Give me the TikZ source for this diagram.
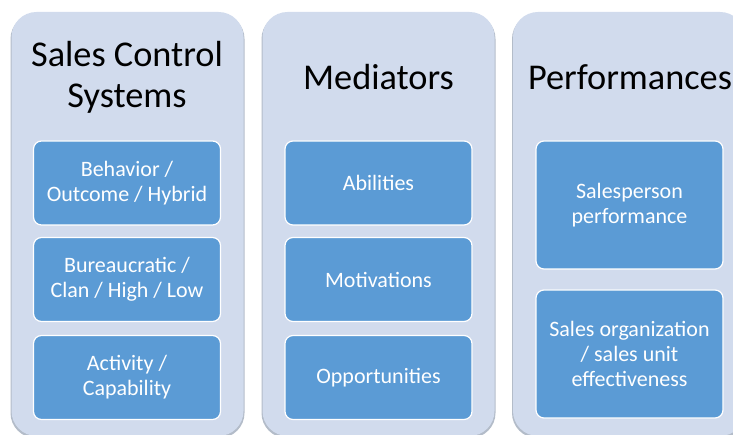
\documentclass[tikz,border=0pt]{standalone}
\usepackage{fontspec}
\setmainfont{Carlito}
\usepackage{tikz}
\usetikzlibrary{positioning}

\definecolor{panelblue}{HTML}{D1DBED}
\definecolor{paneledge}{HTML}{B3BCC9}
\definecolor{boxblue}{HTML}{5B9BD5}

\begin{document}
\begin{tikzpicture}[x=1pt, y=-1pt,
    every node/.style = {align=center, inner sep=0pt},
    panel/.style = {fill=panelblue, rounded corners=25pt, minimum width=232pt, minimum height=424pt},
    shade/.style = {fill=paneledge, rounded corners=25pt, minimum width=234pt, minimum height=424pt},
    heading/.style = {font=\fontsize{36.3}{41}\selectfont, text=black},
    item/.style = {fill=boxblue, draw=white, line width=1.2pt, rounded corners=8pt,
                   minimum width=187pt, minimum height=84pt, text=white,
                   font=\fontsize{22}{25}\selectfont},
    tallitem/.style = {item, minimum height=128pt}]
  \useasboundingbox (0,0) rectangle (733,435);
  % three columns
  \node[shade] (s1) at (127.5,226) {};
  \node[shade] (s2) at (378.5,226) {};
  \node[shade] (s3) at (629,226) {};
  \node[panel] (p1) at (127.5,224) {};
  \node[panel] (p2) at (378.5,224) {};
  \node[panel] (p3) at (629,224) {};
  \node[heading] (t1) at (127,77) {Sales Control\\Systems};
  \node[heading] (t2) at (378.5,77) {Mediators};
  \node[heading] (t3) at (630,77) {Performances};
  % control systems
  \node[item] (c1) at (127,183) {Behavior /\\Outcome / Hybrid};
  \node[item] (c2) at (127,279.5) {Bureaucratic /\\Clan / High / Low};
  \node[item] (c3) at (127,377.5) {Activity /\\Capability};
  % mediators
  \node[item] (m1) at (378.5,183) {Abilities};
  \node[item] (m2) at (378.5,279.5) {Motivations};
  \node[item] (m3) at (378.5,377.5) {Opportunities};
  % performances
  \node[tallitem] (r1) at (629.5,205) {Salesperson\\performance};
  \node[tallitem] (r2) at (629.5,354) {Sales organization\\/ sales unit\\effectiveness};
\end{tikzpicture}
\end{document}
